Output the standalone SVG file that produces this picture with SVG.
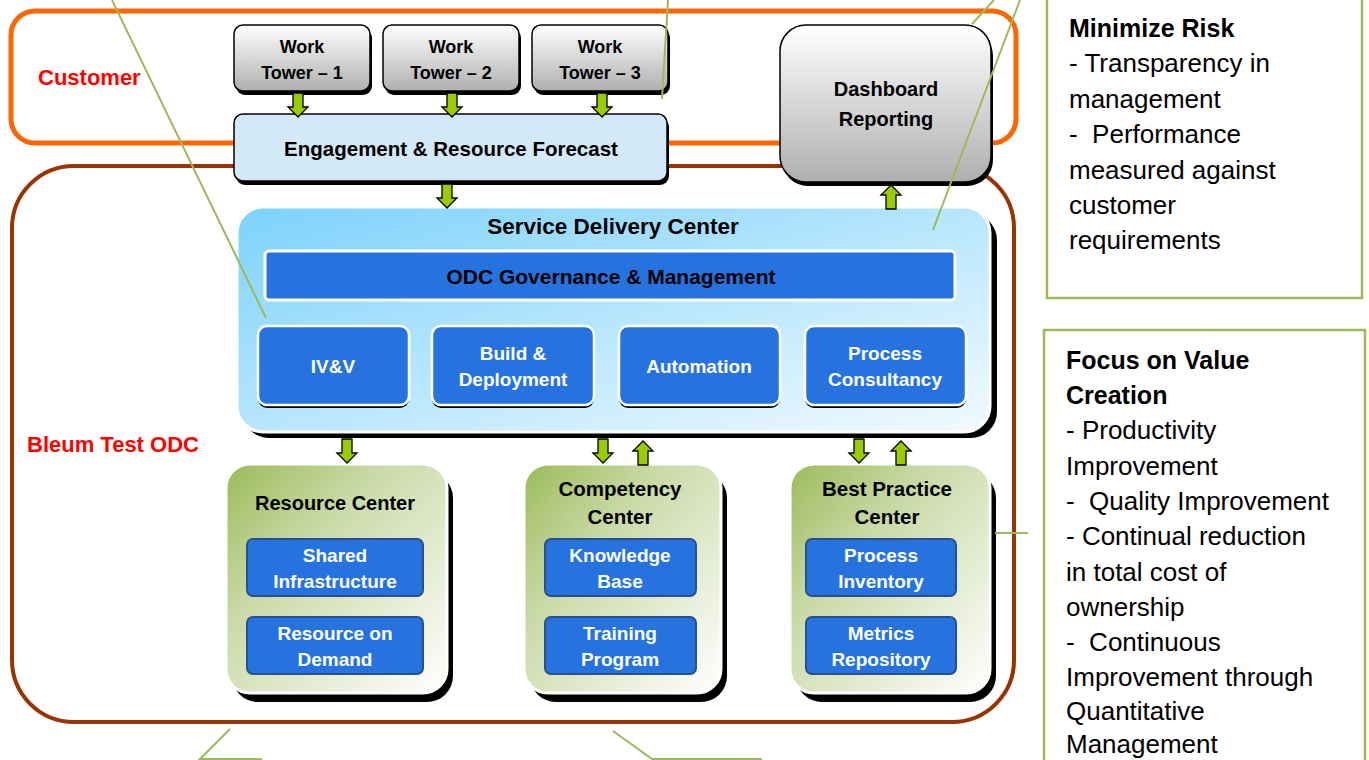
<svg xmlns="http://www.w3.org/2000/svg" width="1369" height="760" viewBox="0 0 1369 760">
<style>
.b{font-family:"Liberation Sans",Arial,sans-serif;font-weight:bold;text-anchor:middle;fill:#000}
.w{font-family:"Liberation Sans",Arial,sans-serif;font-weight:bold;text-anchor:middle;fill:#fff;font-size:19px}
.red{font-family:"Liberation Sans",Arial,sans-serif;font-weight:bold;fill:#FF0000;font-size:22px}
.rt{font-family:"Liberation Sans",Arial,sans-serif;font-size:26px;fill:#000}
.rtb{font-weight:bold;font-size:25px}
.callout{stroke:#9BBB59;stroke-width:2;fill:none}
.arr{fill:#99CC00;stroke:#000;stroke-width:1.3}
.gray{fill:url(#gGray);stroke:#000;stroke-width:1.5}
.shadow{fill:#000}
.blueIn{fill:#2673E0;stroke:#fff;stroke-width:2.5}
.blueLo{fill:#2673E0;stroke:#2B4F8C;stroke-width:2}
</style>
<defs>
<linearGradient id="gGray" x1="0" y1="0" x2="0" y2="1">
<stop offset="0" stop-color="#FFFFFF"/><stop offset="1" stop-color="#AFAFAF"/>
</linearGradient>
<linearGradient id="gSdc" x1="0" y1="0" x2="1" y2="1">
<stop offset="0" stop-color="#7CD2FB"/><stop offset="1" stop-color="#F2FAFF"/>
</linearGradient>
<linearGradient id="gGreen" x1="0" y1="0" x2="1" y2="1">
<stop offset="0" stop-color="#9BBB59"/><stop offset="0.35" stop-color="#C9D9A6"/><stop offset="1" stop-color="#FFFFFF"/>
</linearGradient>
<path id="dn" d="M-5,0 H5 V14 H10 L0,24 L-10,14 H-5 Z"/>
<path id="up" d="M-5,24 H5 V10 H10 L0,0 L-10,10 H-5 Z"/>
</defs>
<rect width="1369" height="760" fill="#fff"/>

<g id="customer">
<rect x="11" y="11" width="1005" height="132" rx="24" fill="none" stroke="#FF6600" stroke-width="5"/>
<text class="red" x="38" y="85">Customer</text>
</g>
<g id="bleum-odc">
<rect x="12" y="166" width="1002" height="556" rx="62" fill="none" stroke="#993300" stroke-width="4"/>
<text class="red" x="27" y="452">Bleum Test ODC</text>
</g>

<g id="work-tower-1">
<rect class="shadow" x="236" y="29" width="136" height="66" rx="9"/>
<rect class="gray" x="234" y="25" width="136" height="66" rx="9"/>
<text class="b" font-size="18" x="302" y="53">Work</text>
<text class="b" font-size="18" x="302" y="79">Tower – 1</text>
</g>
<g id="work-tower-2">
<rect class="shadow" x="385" y="29" width="136" height="66" rx="9"/>
<rect class="gray" x="383" y="25" width="136" height="66" rx="9"/>
<text class="b" font-size="18" x="451" y="53">Work</text>
<text class="b" font-size="18" x="451" y="79">Tower – 2</text>
</g>
<g id="work-tower-3">
<rect class="shadow" x="534" y="29" width="136" height="66" rx="9"/>
<rect class="gray" x="532" y="25" width="136" height="66" rx="9"/>
<text class="b" font-size="18" x="600" y="53">Work</text>
<text class="b" font-size="18" x="600" y="79">Tower – 3</text>
</g>

<g id="engagement">
<rect class="shadow" x="236" y="118" width="433" height="67" rx="9"/>
<rect x="234" y="114" width="433" height="67" rx="9" fill="#D4E9F7" stroke="#000" stroke-width="1.5"/>
<text class="b" font-size="20.5" x="451" y="156">Engagement &amp; Resource Forecast</text>
</g>

<g id="dashboard">
<rect class="shadow" x="782" y="30" width="211" height="156" rx="26"/>
<rect class="gray" x="780" y="25" width="211" height="157" rx="26"/>
<text class="b" font-size="20" x="886" y="96">Dashboard</text>
<text class="b" font-size="20" x="886" y="126">Reporting</text>
</g>

<g id="service-delivery-center">
<rect class="shadow" x="243" y="214" width="754" height="224" rx="26"/>
<rect x="237" y="207" width="753" height="225" rx="26" fill="url(#gSdc)" stroke="#fff" stroke-width="3"/>
<text class="b" font-size="22.5" x="613" y="234">Service Delivery Center</text>
</g>
<g id="odc-governance">
<rect x="265" y="251" width="690" height="49" rx="4" fill="#2673E0" stroke="#fff" stroke-width="3"/>
<text class="b" font-size="21" x="611" y="284">ODC Governance &amp; Management</text>
</g>
<g id="ivv">
<rect class="shadow" x="258" y="329" width="151" height="79" rx="9"/>
<rect class="blueIn" x="258" y="326" width="151" height="79" rx="9"/>
<text class="w" x="333" y="373">IV&amp;V</text>
</g>
<g id="build-deployment">
<rect class="shadow" x="432" y="329" width="162" height="79" rx="9"/>
<rect class="blueIn" x="432" y="326" width="162" height="79" rx="9"/>
<text class="w" x="513" y="360">Build &amp;</text>
<text class="w" x="513" y="386">Deployment</text>
</g>
<g id="automation">
<rect class="shadow" x="619" y="329" width="161" height="79" rx="9"/>
<rect class="blueIn" x="619" y="326" width="161" height="79" rx="9"/>
<text class="w" x="699" y="373">Automation</text>
</g>
<g id="process-consultancy">
<rect class="shadow" x="805" y="329" width="161" height="79" rx="9"/>
<rect class="blueIn" x="805" y="326" width="161" height="79" rx="9"/>
<text class="w" x="885" y="360">Process</text>
<text class="w" x="885" y="386">Consultancy</text>
</g>

<g id="resource-center">
<rect class="shadow" x="232" y="472" width="221" height="230" rx="26"/>
<rect x="226" y="464" width="221" height="229" rx="24" fill="url(#gGreen)" stroke="#fff" stroke-width="3"/>
<text class="b" font-size="20" x="335" y="510">Resource Center</text>
</g>
<g id="shared-infrastructure">
<rect class="blueLo" x="247" y="539" width="176" height="57" rx="6"/>
<text class="w" x="335" y="562">Shared</text>
<text class="w" x="335" y="588">Infrastructure</text>
</g>
<g id="resource-on-demand">
<rect class="blueLo" x="247" y="617" width="176" height="57" rx="6"/>
<text class="w" x="335" y="640">Resource on</text>
<text class="w" x="335" y="666">Demand</text>
</g>

<g id="competency-center">
<rect class="shadow" x="530" y="472" width="197" height="230" rx="26"/>
<rect x="524" y="464" width="197" height="229" rx="24" fill="url(#gGreen)" stroke="#fff" stroke-width="3"/>
<text class="b" font-size="20.5" x="620" y="496">Competency</text>
<text class="b" font-size="20.5" x="620" y="524">Center</text>
</g>
<g id="knowledge-base">
<rect class="blueLo" x="545" y="539" width="151" height="57" rx="6"/>
<text class="w" x="620" y="562">Knowledge</text>
<text class="w" x="620" y="588">Base</text>
</g>
<g id="training-program">
<rect class="blueLo" x="545" y="617" width="151" height="57" rx="6"/>
<text class="w" x="620" y="640">Training</text>
<text class="w" x="620" y="666">Program</text>
</g>

<g id="best-practice-center">
<rect class="shadow" x="796" y="472" width="200" height="230" rx="26"/>
<rect x="790" y="464" width="200" height="229" rx="24" fill="url(#gGreen)" stroke="#fff" stroke-width="3"/>
<text class="b" font-size="20.5" x="887" y="496">Best Practice</text>
<text class="b" font-size="20.5" x="887" y="524">Center</text>
</g>
<g id="process-inventory">
<rect class="blueLo" x="806" y="539" width="150" height="57" rx="6"/>
<text class="w" x="881" y="562">Process</text>
<text class="w" x="881" y="588">Inventory</text>
</g>
<g id="metrics-repository">
<rect class="blueLo" x="806" y="617" width="150" height="57" rx="6"/>
<text class="w" x="881" y="640">Metrics</text>
<text class="w" x="881" y="666">Repository</text>
</g>

<g id="minimize-risk">
<rect x="1047" y="-5" width="315" height="303" fill="#fff" stroke="#9BBB59" stroke-width="2.5"/>
<text class="rt rtb" x="1069" y="37">Minimize Risk</text>
<text class="rt" x="1069" y="72">- Transparency in</text>
<text class="rt" x="1069" y="108">management</text>
<text class="rt" x="1069" y="143" xml:space="preserve">-  Performance</text>
<text class="rt" x="1069" y="179">measured against</text>
<text class="rt" x="1069" y="214">customer</text>
<text class="rt" x="1069" y="249">requirements</text>
</g>
<g id="focus-value">
<rect x="1044" y="330" width="321" height="440" fill="#fff" stroke="#9BBB59" stroke-width="2.5"/>
<text class="rt rtb" x="1066" y="369">Focus on Value</text>
<text class="rt rtb" x="1066" y="404">Creation</text>
<text class="rt" x="1066" y="439">- Productivity</text>
<text class="rt" x="1066" y="475">Improvement</text>
<text class="rt" x="1066" y="510" xml:space="preserve">-  Quality Improvement</text>
<text class="rt" x="1066" y="545">- Continual reduction</text>
<text class="rt" x="1066" y="581">in total cost of</text>
<text class="rt" x="1066" y="616">ownership</text>
<text class="rt" x="1066" y="651" xml:space="preserve">-  Continuous</text>
<text class="rt" x="1066" y="686">Improvement through</text>
<text class="rt" x="1066" y="720">Quantitative</text>
<text class="rt" x="1066" y="753">Management</text>
</g>

<g id="connectors">
<use href="#dn" class="arr" transform="translate(298,93)"/>
<use href="#dn" class="arr" transform="translate(452,93)"/>
<use href="#dn" class="arr" transform="translate(602,93)"/>
<use href="#dn" class="arr" transform="translate(447,184)"/>
<use href="#up" class="arr" transform="translate(891,185)"/>
<use href="#dn" class="arr" transform="translate(347,439)"/>
<use href="#dn" class="arr" transform="translate(603,439)"/>
<use href="#up" class="arr" transform="translate(643,441)"/>
<use href="#dn" class="arr" transform="translate(859,439)"/>
<use href="#up" class="arr" transform="translate(901,441)"/>
<line class="callout" x1="112" y1="0" x2="266" y2="318"/>
<line class="callout" x1="668" y1="0" x2="662" y2="99"/>
<line class="callout" x1="994" y1="0" x2="972" y2="24"/>
<line class="callout" x1="1020" y1="0" x2="933" y2="230"/>
<polyline class="callout" points="230,729 200,759 262,759"/>
<polyline class="callout" points="613,731 652,759 762,759"/>
<line class="callout" x1="995" y1="533" x2="1028" y2="533"/>
</g>
</svg>
